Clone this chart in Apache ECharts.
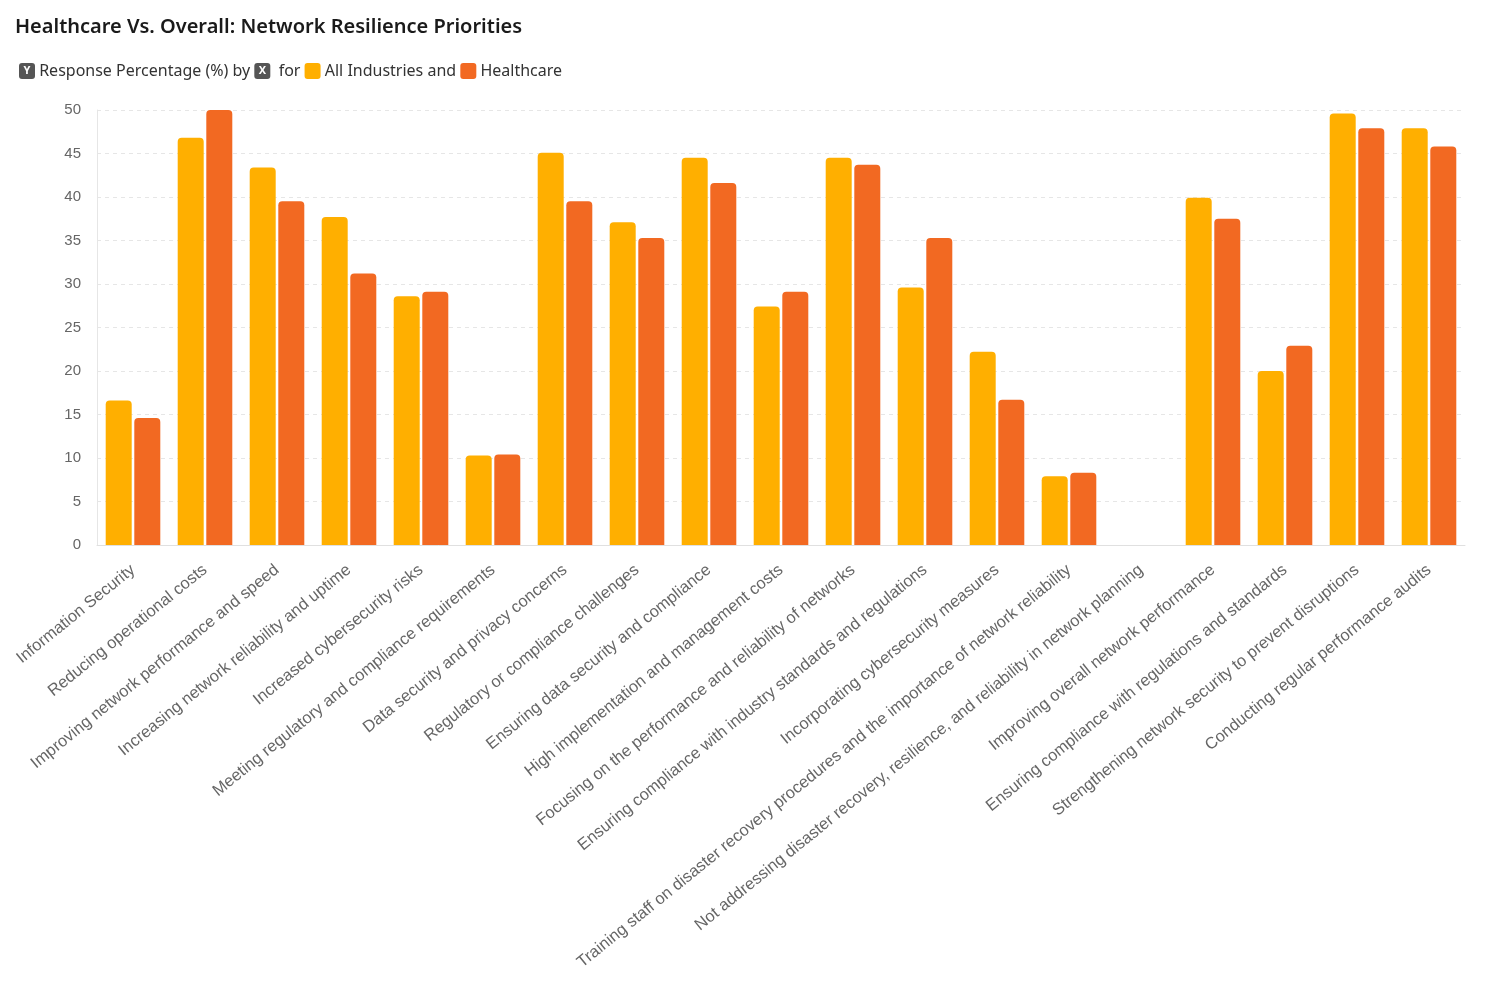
<!DOCTYPE html>
<html>
<head>
<meta charset="utf-8">
<script src="https://cdn.jsdelivr.net/npm/echarts@6/dist/echarts.min.js"></script>
<style>
html,body{margin:0;padding:0;background:#fff;}
#chart{width:1485px;height:990px;}
</style>
</head>
<body>
<div id="chart"></div>
<script>
const categories = [
  "Information Security",
  "Reducing operational costs",
  "Improving network performance and speed",
  "Increasing network reliability and uptime",
  "Increased cybersecurity risks",
  "Meeting regulatory and compliance requirements",
  "Data security and privacy concerns",
  "Regulatory or compliance challenges",
  "Ensuring data security and compliance",
  "High implementation and management costs",
  "Focusing on the performance and reliability of networks",
  "Ensuring compliance with industry standards and regulations",
  "Incorporating cybersecurity measures",
  "Training staff on disaster recovery procedures and the importance of network reliability",
  "Not addressing disaster recovery, resilience, and reliability in network planning",
  "Improving overall network performance",
  "Ensuring compliance with regulations and standards",
  "Strengthening network security to prevent disruptions",
  "Conducting regular performance audits"
];
const allIndustries = [16.6, 46.8, 43.4, 37.7, 28.6, 10.3, 45.1, 37.1, 44.5, 27.4, 44.5, 29.6, 22.2, 7.9, null, 39.9, 20.0, 49.6, 47.9];
const healthcare    = [14.6, 50.0, 39.5, 31.2, 29.1, 10.4, 39.5, 35.3, 41.6, 29.1, 43.7, 35.3, 16.7, 8.3, null, 37.5, 22.9, 47.9, 45.8];
const seriesNames = ["All Industries", "Healthcare"];
const yTicks = {min: 0, max: 50, interval: 5};

const chart = echarts.init(document.getElementById('chart'));
const colors = ['#FFAF00', '#F26922'];
const badge = {backgroundColor: '#555', color: '#fff', width: 16, height: 16, align: 'center', borderRadius: 3, fontSize: 11, fontWeight: 'bold', lineHeight: 16, fontFamily: 'Noto Sans'};
chart.setOption({
  animation: false,
  color: colors,
  title: [
    {
      text: 'Healthcare Vs. Overall: Network Resilience Priorities',
      left: 10, top: 12,
      textStyle: {fontFamily: 'Noto Sans', fontSize: 20, fontWeight: 600, color: '#1a1a1a'}
    },
    {
      text: '{y|Y} Response Percentage (%) by {x|X}  for {a|} All Industries and {b|} Healthcare',
      left: 14, top: 58,
      textStyle: {
        fontFamily: 'Noto Sans', fontSize: 16, color: '#333', fontWeight: 400,
        rich: {
          y: badge,
          x: badge,
          a: {backgroundColor: colors[0], width: 16, height: 16, borderRadius: 3},
          b: {backgroundColor: colors[1], width: 16, height: 16, borderRadius: 3}
        }
      }
    }
  ],
  grid: {left: 97, right: 20, top: 110, bottom: 445, containLabel: false},
  xAxis: {
    type: 'category',
    data: categories,
    axisTick: {show: false},
    axisLine: {lineStyle: {color: '#e0e0e0'}},
    axisLabel: {
      interval: 0, rotate: 39, color: '#666', fontSize: 16.5,
      fontFamily: 'Liberation Sans, Arial', margin: 23
    }
  },
  yAxis: {
    type: 'value',
    min: yTicks.min, max: yTicks.max, interval: yTicks.interval,
    axisLine: {show: true, lineStyle: {color: '#e6e6e6'}},
    axisTick: {show: false},
    axisLabel: {color: '#666', fontSize: 15, fontFamily: 'Liberation Sans, Arial', margin: 16},
    splitLine: {lineStyle: {color: '#e6e6e6', type: [4, 4]}}
  },
  series: [
    {
      name: seriesNames[0], type: 'bar', data: allIndustries,
      barWidth: 26, barGap: '10%',
      itemStyle: {borderRadius: [4, 4, 0, 0]}
    },
    {
      name: seriesNames[1], type: 'bar', data: healthcare,
      barWidth: 26, barGap: '10%',
      itemStyle: {borderRadius: [4, 4, 0, 0]}
    }
  ]
});
</script>
</body>
</html>
